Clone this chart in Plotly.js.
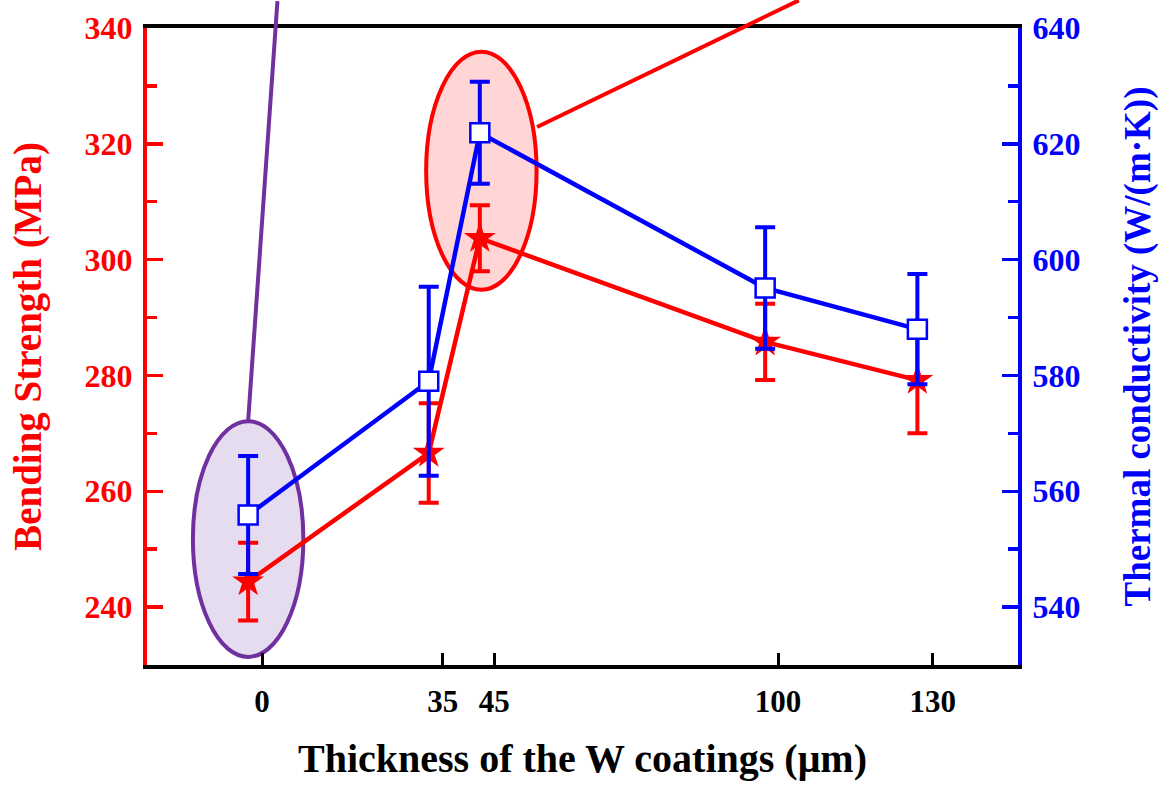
<!DOCTYPE html>
<html>
<head>
<meta charset="utf-8">
<script src="https://cdn.plot.ly/plotly-3.0.1.min.js"></script>
<style>html,body{margin:0;padding:0;background:#fff;}#chart{width:1168px;height:788px;}</style>
</head>
<body>
<div id="chart"></div>
<script>
// ---- data ----
const thicknessLabels = [0, 35, 45, 100, 130];          // x tick labels (µm)
const xPlot = [-2.7, 32.3, 42.2, 97.5, 127.0];           // plotted x positions of the points
const bendingStrength = [244.4, 266.6, 303.7, 285.8, 279.2]; // MPa
const bendingErr = [6.7, 8.6, 5.7, 6.6, 9.2];
const thermalCond = [555.9, 579.0, 621.9, 595.1, 588.0];  // W/(m·K)
const thermalErr = [10.2, 16.3, 8.8, 10.5, 9.5];

// axis ranges
const xRange = [-22.3, 146.5];
const yLeftRange = [230, 340];
const yRightRange = [530, 640];

const FONT = 'Liberation Serif, Times New Roman, serif';
const RED = '#ff0000', BLUE = '#0000ff', PURPLE = '#7030a0';

const traces = [
  {
    x: xPlot, y: bendingStrength, type: 'scatter', mode: 'lines+markers', yaxis: 'y',
    line: {color: RED, width: 4.5},
    marker: {symbol: 'star', size: 24, color: RED, line: {width: 0}},
    error_y: {type: 'data', array: bendingErr, visible: true, color: RED, thickness: 4, width: 10},
    cliponaxis: false, showlegend: false
  },
  {
    x: xPlot, y: thermalCond, type: 'scatter', mode: 'lines+markers', yaxis: 'y2',
    line: {color: BLUE, width: 4.5},
    marker: {symbol: 'square', size: 19, color: '#ffffff', line: {color: BLUE, width: 2.5}},
    error_y: {type: 'data', array: thermalErr, visible: true, color: BLUE, thickness: 4, width: 10},
    cliponaxis: false, showlegend: false
  }
];

// highlight ellipses around groups 0 and 45 (centred on the point x positions)
const ellHalfW = 10.7;
const shapes = [
  {type: 'circle', xref: 'x', yref: 'y', layer: 'below',
   x0: xPlot[0] - ellHalfW, x1: xPlot[0] + ellHalfW, y0: 231.4, y1: 272.1,
   line: {color: PURPLE, width: 4}, fillcolor: '#e5ddef'},
  {type: 'circle', xref: 'x', yref: 'y', layer: 'below',
   x0: xPlot[2] - ellHalfW + 0.3, x1: xPlot[2] + ellHalfW + 0.3, y0: 294.8, y1: 335.9,
   line: {color: RED, width: 4}, fillcolor: '#ffd5d5'}
];

// leader lines leaving the ellipses (go past the frame)
const annotations = [
  {x: xPlot[0], y: 272.1, xref: 'x', yref: 'y', axref: 'x', ayref: 'y',
   ax: 3.0, ay: 344.9, text: '', showarrow: true, arrowhead: 0, arrowwidth: 4,
   arrowcolor: PURPLE, standoff: 0, startstandoff: 0},
  {x: 53.3, y: 322.9, xref: 'x', yref: 'y', axref: 'x', ayref: 'y',
   ax: 104.3, ay: 344.9, text: '', showarrow: true, arrowhead: 0, arrowwidth: 4,
   arrowcolor: RED, standoff: 0, startstandoff: 0}
];

const layout = {
  width: 1168, height: 788,
  margin: {l: 147, r: 150, t: 28, b: 123},
  paper_bgcolor: '#ffffff', plot_bgcolor: 'rgba(0,0,0,0)',
  showlegend: false,
  font: {family: FONT, weight: 700},
  xaxis: {
    range: xRange, tickmode: 'array', tickvals: thicknessLabels, ticktext: thicknessLabels.map(String),
    ticks: 'inside', ticklen: 12, tickwidth: 3, tickcolor: '#000',
    showline: true, linecolor: '#000', linewidth: 4, mirror: true,
    showgrid: false, zeroline: false, ticklabelstandoff: 6,
    tickfont: {family: FONT, size: 31, color: '#000', weight: 700},
    title: {text: 'Thickness of the W coatings (μm)', font: {family: FONT, size: 40, color: '#000', weight: 700}, standoff: 27}
  },
  yaxis: {
    range: yLeftRange, tickmode: 'linear', tick0: 240, dtick: 20,
    ticks: 'inside', ticklen: 16, tickwidth: 3.5, tickcolor: RED,
    minor: {ticks: 'inside', ticklen: 10, tickwidth: 3.5, tickcolor: RED, dtick: 10, tick0: 230, showgrid: false},
    showline: true, linecolor: RED, linewidth: 4,
    showgrid: false, zeroline: false, ticklabelstandoff: 4,
    tickfont: {family: FONT, size: 32, color: RED, weight: 700},
    title: {text: 'Bending Strength (MPa)', font: {family: FONT, size: 39, color: RED, weight: 700}, standoff: 32}
  },
  yaxis2: {
    range: yRightRange, overlaying: 'y', side: 'right', tickmode: 'linear', tick0: 540, dtick: 20,
    ticks: 'inside', ticklen: 16, tickwidth: 3.5, tickcolor: BLUE,
    minor: {ticks: 'inside', ticklen: 10, tickwidth: 3.5, tickcolor: BLUE, dtick: 10, tick0: 530, showgrid: false},
    showline: true, linecolor: BLUE, linewidth: 4,
    showgrid: false, zeroline: false, ticklabelstandoff: 4,
    tickfont: {family: FONT, size: 32, color: BLUE, weight: 700},
    title: {text: 'Thermal conductivity (W/(m·K))', font: {family: FONT, size: 37, color: BLUE, weight: 700}, standoff: 46}
  },
  shapes: shapes,
  annotations: annotations
};

Plotly.newPlot('chart', traces, layout, {staticPlot: true, displayModeBar: false});
</script>
</body>
</html>
